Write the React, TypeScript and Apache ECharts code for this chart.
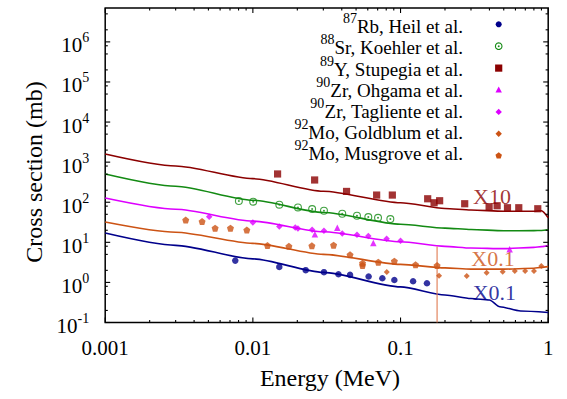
import React, { useEffect, useRef } from "react";
import * as echarts from "echarts";

// ---------- axis ranges & ticks ----------
const X_MIN = 0.001;
const X_MAX = 1;
const Y_MIN = 0.1;
const Y_MAX = 7e6;
const xTickValues = [0.001, 0.01, 0.1, 1];
const xTickLabels = ["0.001", "0.01", "0.1", "1"];
const xMinorMultipliers = [2, 3, 4, 5, 6, 7, 8, 9];
const yTickExponents = [-1, 0, 1, 2, 3, 4, 5, 6];
const yMinorMultipliers = [2, 5, 8];

// ---------- legend ----------
const legendIsotopes = ["87", "88", "89", "90", "90", "92", "92"];
const legendLabels = [
  "Rb, Heil et al.",
  "Sr, Koehler et al.",
  "Y, Stupegia et al.",
  "Zr, Ohgama et al.",
  "Zr, Tagliente et al.",
  "Mo, Goldblum et al.",
  "Mo, Musgrove et al.",
];

// ---------- experimental points (E in MeV, cross section in mb) ----------
const heilE = [0.0076, 0.0151, 0.0228, 0.0303, 0.038, 0.0455, 0.0608, 0.0753, 0.0908, 0.1216, 0.151];
const heilS = [3.5, 2.44, 2.02, 1.8, 1.6, 1.54, 1.4, 1.27, 1.15, 1.07, 0.955];

const koehlerE = [0.00804, 0.01005, 0.0151, 0.0202, 0.0252, 0.0303, 0.0403, 0.0507, 0.0605, 0.0704, 0.0853];
const koehlerS = [107, 103, 86.6, 74, 67.6, 61.3, 51.6, 46, 42.7, 41, 38];

const stupegiaE = [0.0147, 0.0262, 0.0431, 0.0689, 0.088, 0.1527, 0.1687, 0.184, 0.272, 0.398, 0.451, 0.53, 0.632, 0.85];
const stupegiaS = [507, 359, 186, 151, 151, 122, 97, 109, 91.7, 77.2, 81.8, 72.9, 72.9, 68.8];

const ohgamaE = [0.0263, 0.0373, 0.0654, 0.548];
const ohgamaS = [15.8, 23, 9.6, 6.7];

const taglienteE = [0.00506, 0.01, 0.0151, 0.01936, 0.0202, 0.0252, 0.0303, 0.0403, 0.0507, 0.0605, 0.0805, 0.1];
const taglienteS = [43.4, 31.3, 24.8, 23.4, 22.1, 20.5, 19.4, 16.6, 15.4, 14.3, 12.2, 10.9];

const goldblumE = [0.0807, 0.1824, 0.2807, 0.383, 0.492, 0.594, 0.698, 0.801, 0.898];
const goldblumS = [1.83, 1.47, 1.45, 1.73, 1.85, 1.92, 1.92, 1.92, 2.56];

const musgroveE = [0.00351, 0.00453, 0.00555, 0.00705, 0.0091, 0.01256, 0.01754, 0.0251, 0.0352, 0.0455, 0.0553, 0.0553, 0.0707, 0.0908, 0.1264, 0.1768];
const musgroveS = [35.9, 33.1, 22.6, 22.6, 20.2, 8.3, 8.0, 8.2, 8.5, 4.87, 3.02, 2.66, 3.2, 3.39, 2.74, 2.63];

// error bar on one Musgrove point
const errorBarE = [0.1768, 0.1768];
const errorBarS = [0.1, 7.85];

// ---------- calculated curves ----------
const curveE = [0.001, 0.003, 0.01, 0.03, 0.1, 0.2, 0.3, 0.5, 0.8, 0.9, 1];
const curveY = [1603, 804, 387, 188, 97.2, 70, 63.8, 59.6, 59.6, 61.3, 41];
const curveSr = [507, 251, 112, 55.6, 28.2, 22.6, 20.9, 19.4, 19.6, 19.8, 20.5];
const curveZr = [127, 66.8, 33.9, 18.3, 10.3, 7.94, 7.2, 6.96, 7.5, 7.8, 8.18];
const curveMo = [32, 17.8, 9.44, 5.01, 2.82, 2.3, 2.15, 2.14, 2.26, 2.37, 2.48];
const curveRbE = [0.001, 0.003, 0.01, 0.03, 0.1, 0.2, 0.3, 0.4, 0.47, 0.65, 1];
const curveRb = [17.0, 8.41, 3.87, 1.78, 0.772, 0.487, 0.398, 0.365, 0.248, 0.194, 0.178];

// ---------- scale annotations ----------
const annotationTexts = ["X10", "X0.1", "X0.1"];
const annotationE = [0.416, 0.423, 0.432];
const annotationS = [138, 3.87, 0.561];

// ---------- styles ----------
const C_RED = "#8b0000";
const C_GREEN = "#138a13";
const C_MAG = "#dd00ff";
const C_ORANGE = "#cc5314";
const C_BLUE = "#00008b";
const C_TEXT = "#000";
const FONT = "Liberation Serif";
const RING_PATH =
  "path://M10,0A10,10,0,1,1,10,20A10,10,0,1,1,10,0ZM10,2.8A7.2,7.2,0,1,0,10,17.2A7.2,7.2,0,1,0,10,2.8ZM10,7.4A2.6,2.6,0,1,1,10,12.6A2.6,2.6,0,1,1,10,7.4Z";
const PENTAGON_PATH = "path://M10,0L19.51,6.91L15.88,18.09L4.12,18.09L0.49,6.91Z";

const zip = (xs: number[], ys: number[]) => xs.map((x, i) => [x, ys[i]]);

function buildTicks() {
  const t: number[][] = [];
  for (let d = -3; d <= 0; d++) {
    const base = Math.pow(10, d);
    t.push([base, Y_MIN, 0, 1]);
    if (d < 0) xMinorMultipliers.forEach((m) => t.push([m * base, Y_MIN, 0, 0]));
  }
  yTickExponents.forEach((d) => {
    const base = Math.pow(10, d);
    t.push([X_MIN, base, 1, 1]);
    yMinorMultipliers.forEach((m) => {
      if (m * base < Y_MAX) t.push([X_MIN, m * base, 1, 0]);
    });
  });
  return t;
}

function legendGraphics() {
  const colors = [C_BLUE, C_GREEN, C_RED, C_MAG, C_MAG, C_ORANGE, C_ORANGE];
  const items: any[] = [];
  const mx = 498.7;
  legendLabels.forEach((lab, i) => {
    const my = 24.3 + 21.9 * i;
    const ty = 26.8 + 21.1 * i;
    items.push({
      type: "text",
      x: 463,
      y: ty,
      style: {
        text: `{s|${legendIsotopes[i]}}{m|${lab}}`,
        fontFamily: FONT,
        fontSize: 19,
        align: "right",
        verticalAlign: "middle",
        fill: C_TEXT,
        rich: {
          s: { fontFamily: FONT, fontSize: 14, lineHeight: 13, verticalAlign: "top", fill: C_TEXT },
          m: { fontFamily: FONT, fontSize: 19, lineHeight: 30, fill: C_TEXT },
        },
      },
    });
    const c = colors[i];
    if (i === 0) items.push({ type: "circle", shape: { cx: mx, cy: my, r: 3 }, style: { fill: c } });
    if (i === 1) {
      items.push({ type: "circle", shape: { cx: mx, cy: my, r: 3.3 }, style: { fill: "none", stroke: c, lineWidth: 1.1 } });
      items.push({ type: "circle", shape: { cx: mx, cy: my, r: 0.9 }, style: { fill: c } });
    }
    if (i === 2) items.push({ type: "rect", shape: { x: mx - 3.6, y: my - 3.6, width: 7.2, height: 7.2 }, style: { fill: c } });
    if (i === 3)
      items.push({ type: "polygon", shape: { points: [[mx, my - 3.4], [mx + 3.2, my + 2.4], [mx - 3.2, my + 2.4]] }, style: { fill: c } });
    if (i === 4 || i === 5)
      items.push({ type: "polygon", shape: { points: [[mx, my - 3.2], [mx + 3.2, my], [mx, my + 3.2], [mx - 3.2, my]] }, style: { fill: c } });
    if (i === 6) {
      const pts: number[][] = [];
      for (let k = 0; k < 5; k++) {
        const a = -Math.PI / 2 + (k * 2 * Math.PI) / 5;
        pts.push([mx + 3.4 * Math.cos(a), my + 3.4 * Math.sin(a)]);
      }
      items.push({ type: "polygon", shape: { points: pts }, style: { fill: c } });
    }
  });
  return items;
}

export default function App() {
  const ref = useRef<HTMLDivElement>(null);
  useEffect(() => {
    if (!ref.current) return;
    const chart = echarts.init(ref.current, undefined, { renderer: "svg" });
    const lineBase = { type: "line", showSymbol: false, symbol: "none", smooth: 0.25, smoothMonotone: "x", silent: true, z: 2 };
    const scatterBase = { type: "scatter", silent: true, z: 3 };
    const option: any = {
      animation: false,
      grid: { left: 105.2, right: 18.8, top: 8, bottom: 76.5, show: true, borderColor: "#000", borderWidth: 1.5 },
      xAxis: {
        type: "log",
        logBase: 10,
        min: X_MIN,
        max: X_MAX,
        axisLine: { show: false },
        axisTick: { show: false },
        splitLine: { show: false },
        axisLabel: {
          margin: 15,
          fontFamily: FONT,
          fontSize: 21,
          color: C_TEXT,
          formatter: (v: number) => {
            const idx = xTickValues.findIndex((t) => Math.abs(Math.log10(t) - Math.log10(v)) < 1e-6);
            return idx >= 0 ? xTickLabels[idx] : "";
          },
        },
      },
      yAxis: {
        type: "log",
        logBase: 10,
        min: Y_MIN,
        max: Y_MAX,
        axisLine: { show: false },
        axisTick: { show: false },
        splitLine: { show: false },
        axisLabel: {
          margin: 16,
          color: C_TEXT,
          fontFamily: FONT,
          fontSize: 21,
          formatter: (v: number) => {
            const e = Math.log10(v);
            const r = Math.round(e);
            if (Math.abs(e - r) > 1e-6 || yTickExponents.indexOf(r) < 0) return "";
            return `{b|10}{s|${r}}`;
          },
          rich: {
            b: { fontFamily: FONT, fontSize: 21, lineHeight: 22, padding: [7, 0, 0, 0], color: C_TEXT },
            s: { fontFamily: FONT, fontSize: 14, lineHeight: 18, verticalAlign: "top", color: C_TEXT },
          },
        },
      },
      graphic: [
        {
          type: "text",
          x: 34,
          y: 172,
          rotation: Math.PI / 2,
          style: { text: "Cross section (mb)", fontFamily: FONT, fontSize: 24, fill: C_TEXT, align: "center", verticalAlign: "middle" },
        },
        {
          type: "text",
          x: 330,
          y: 378,
          style: { text: "Energy (MeV)", fontFamily: FONT, fontSize: 24, fill: C_TEXT, align: "center", verticalAlign: "middle" },
        },
        ...legendGraphics(),
      ],
      series: [
        { ...lineBase, name: "Y calc", data: zip(curveE, curveY), lineStyle: { color: C_RED, width: 1.6 } },
        { ...lineBase, name: "Sr calc", data: zip(curveE, curveSr), lineStyle: { color: C_GREEN, width: 1.6 } },
        { ...lineBase, name: "Zr calc", data: zip(curveE, curveZr), lineStyle: { color: C_MAG, width: 1.6 } },
        { ...lineBase, name: "Mo calc", data: zip(curveE, curveMo), lineStyle: { color: C_ORANGE, width: 1.6 } },
        { ...lineBase, name: "Rb calc", data: zip(curveRbE, curveRb), lineStyle: { color: C_BLUE, width: 1.6 } },
        { ...lineBase, smooth: false, name: "error bar", data: zip(errorBarE, errorBarS), lineStyle: { color: "#e07a50", width: 1.1 } },
        { ...scatterBase, name: legendLabels[0], data: zip(heilE, heilS), symbol: "circle", symbolSize: 6.5, itemStyle: { color: C_BLUE } },
        { ...scatterBase, name: legendLabels[1], data: zip(koehlerE, koehlerS), symbol: RING_PATH, symbolSize: 8, itemStyle: { color: C_GREEN } },
        { ...scatterBase, name: legendLabels[2], data: zip(stupegiaE, stupegiaS), symbol: "rect", symbolSize: 7.2, itemStyle: { color: C_RED } },
        { ...scatterBase, name: legendLabels[3], data: zip(ohgamaE, ohgamaS), symbol: "triangle", symbolSize: 6.5, itemStyle: { color: C_MAG } },
        { ...scatterBase, name: legendLabels[4], data: zip(taglienteE, taglienteS), symbol: "diamond", symbolSize: 6.5, itemStyle: { color: C_MAG } },
        { ...scatterBase, name: legendLabels[5], data: zip(goldblumE, goldblumS), symbol: "diamond", symbolSize: 6, itemStyle: { color: C_ORANGE } },
        { ...scatterBase, name: legendLabels[6], data: zip(musgroveE, musgroveS), symbol: PENTAGON_PATH, symbolSize: 7, itemStyle: { color: C_ORANGE } },
        {
          type: "scatter",
          name: "annotations",
          silent: true,
          symbolSize: 0,
          z: 4,
          data: annotationE.map((e, i) => ({
            value: [e, annotationS[i]],
            label: { color: [C_RED, C_ORANGE, C_BLUE][i] },
          })),
          label: {
            show: true,
            position: "inside",
            fontFamily: FONT,
            fontSize: 22,
            formatter: (p: any) => annotationTexts[p.dataIndex],
          },
        },
        {
          type: "custom",
          name: "ticks",
          silent: true,
          z: 11,
          data: buildTicks(),
          renderItem: (_params: any, api: any) => {
            const v0 = api.value(0);
            const v1 = api.value(1);
            const kind = api.value(2);
            const len = api.value(3) ? 5 : 2.6;
            const style = { stroke: "#000", lineWidth: 1.1 };
            if (kind === 0) {
              const b = api.coord([v0, Y_MIN]);
              const t = api.coord([v0, Y_MAX]);
              return {
                type: "group",
                children: [
                  { type: "line", shape: { x1: b[0], y1: b[1], x2: b[0], y2: b[1] - len }, style },
                  { type: "line", shape: { x1: t[0], y1: t[1], x2: t[0], y2: t[1] + len }, style },
                ],
              };
            }
            const l = api.coord([X_MIN, v1]);
            const r = api.coord([X_MAX, v1]);
            return {
              type: "group",
              children: [
                { type: "line", shape: { x1: l[0], y1: l[1], x2: l[0] + len, y2: l[1] }, style },
                { type: "line", shape: { x1: r[0], y1: r[1], x2: r[0] - len, y2: r[1] }, style },
              ],
            };
          },
        },
      ],
    };
    chart.setOption(option);
    return () => chart.dispose();
  }, []);
  return (
    <div
      ref={ref}
      style={{ position: "fixed", left: 0, top: 0, width: 567, height: 399, background: "#fff" }}
    />
  );
}
